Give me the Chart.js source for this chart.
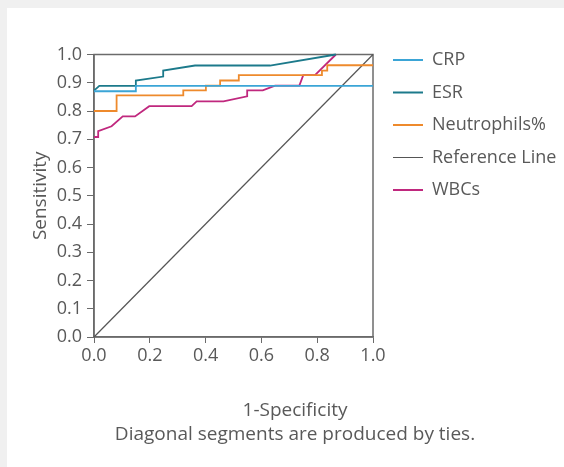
<!DOCTYPE html>
<html>
<head>
<meta charset="utf-8">
<script src="https://cdn.jsdelivr.net/npm/chart.js@4/dist/chart.umd.min.js"></script>
<style>
  html, body { margin: 0; padding: 0; background: #f0f0f0; }
  #panel { position: absolute; left: 7px; top: 8px; right: 0; bottom: 0; background: #ffffff; }
  #c { position: absolute; left: 0; top: 0; }
</style>
</head>
<body>
<div id="panel"></div>
<canvas id="c" width="564" height="467"></canvas>
<script>
// ---- data ----
const seriesNames = ['CRP', 'ESR', 'Neutrophils%', 'Reference Line', 'WBCs'];
const seriesColors = ['#3ba5d6', '#1c7a8b', '#ee8a2c', '#555555', '#c0287e'];

const crpX = [0, 0.15, 0.15, 1.0];
const crpY = [0.870, 0.870, 0.889, 0.889];

const esrX = [0, 0.019, 0.15, 0.15, 0.248, 0.248, 0.362, 0.631, 0.867];
const esrY = [0.872, 0.889, 0.889, 0.908, 0.922, 0.943, 0.961, 0.961, 1.0];

const neutX = [0, 0.081, 0.081, 0.32, 0.32, 0.401, 0.401, 0.452, 0.452, 0.519, 0.519, 0.817, 0.817, 0.836, 0.836, 1.0];
const neutY = [0.800, 0.800, 0.855, 0.855, 0.873, 0.873, 0.890, 0.890, 0.908, 0.908, 0.927, 0.927, 0.943, 0.943, 0.962, 0.962];

const refX = [0, 1];
const refY = [0, 1];

const wbcX = [0, 0.015, 0.015, 0.063, 0.103, 0.147, 0.198, 0.35, 0.368, 0.464, 0.549, 0.549, 0.605, 0.649, 0.736, 0.750, 0.792, 0.867];
const wbcY = [0.708, 0.708, 0.729, 0.746, 0.781, 0.781, 0.817, 0.817, 0.834, 0.834, 0.852, 0.873, 0.873, 0.890, 0.890, 0.927, 0.927, 1.0];

const xTicks = [0, 0.2, 0.4, 0.6, 0.8, 1.0];
const yTicks = [0, 0.1, 0.2, 0.3, 0.4, 0.5, 0.6, 0.7, 0.8, 0.9, 1.0];

const xTitle = '1-Specificity';
const footNote = 'Diagonal segments are produced by ties.';
const yTitle = 'Sensitivity';

// ---- build ----
const xs = [crpX, esrX, neutX, refX, wbcX];
const ys = [crpY, esrY, neutY, refY, wbcY];
const toPts = (a, b) => a.map((v, i) => ({ x: v, y: b[i] }));

const datasets = seriesNames.map((name, i) => ({
  label: name,
  data: toPts(xs[i], ys[i]),
  showLine: true,
  borderColor: seriesColors[i],
  backgroundColor: seriesColors[i],
  borderWidth: name === 'Reference Line' ? 1.2 : 1.8,
  pointRadius: 0,
  pointHoverRadius: 0,
  tension: 0,
  clip: 4
}));

const textColor = '#595959';
const axisColor = '#6b6b6b';
const fontFamily = "'Open Sans', 'Noto Sans', sans-serif";

const framePlugin = {
  id: 'frame',
  beforeDatasetsDraw(chart) {
    const a = chart.chartArea, ctx = chart.ctx;
    ctx.save();
    ctx.strokeStyle = axisColor;
    ctx.lineWidth = 1.5;
    ctx.strokeRect(a.left, a.top, a.right - a.left, a.bottom - a.top);
    ctx.restore();
  }
};

const hiddenSpacer = (pos, size) => ({
  type: 'linear',
  position: pos,
  display: true,
  min: 0, max: 1,
  ticks: { display: false },
  grid: { display: false },
  border: { display: false },
  afterFit: s => { if (pos === 'top') s.height = size; else s.width = size; }
});

new Chart(document.getElementById('c'), {
  type: 'scatter',
  data: { datasets },
  plugins: [framePlugin],
  options: {
    responsive: false,
    animation: false,
    layout: { padding: { left: 31.5, top: 36.5, right: 5.5, bottom: 20.5 } },
    plugins: {
      tooltip: { enabled: false },
      legend: {
        position: 'right',
        align: 'start',
        maxWidth: 180,
        labels: {
          usePointStyle: true,
          pointStyle: 'line',
          pointStyleWidth: 30,
          boxHeight: 18,
          color: textColor,
          font: { family: fontFamily, size: 18 },
          padding: 14.5
        }
      },
      title: {
        display: true,
        position: 'bottom',
        text: [xTitle, footNote],
        color: textColor,
        font: { family: fontFamily, size: 19, weight: 'normal', lineHeight: 1.263 },
        padding: { top: 21.5, bottom: 0 }
      }
    },
    scales: {
      x: {
        type: 'linear',
        position: 'bottom',
        min: 0, max: 1,
        afterBuildTicks: s => { s.ticks = xTicks.map(v => ({ value: v })); },
        afterFit: s => { s.height = 40; },
        ticks: { color: textColor, font: { family: fontFamily, size: 18 }, padding: 2, callback: v => v.toFixed(1), maxRotation: 0 },
        grid: { drawOnChartArea: false, drawTicks: true, tickLength: 6, color: axisColor, lineWidth: 1 },
        border: { display: true, color: axisColor, width: 1.5 }
      },
      y: {
        type: 'linear',
        position: 'left',
        min: 0, max: 1,
        afterBuildTicks: s => { s.ticks = yTicks.map(v => ({ value: v })); },
        afterFit: s => { s.width = 62.5; },
        ticks: { color: textColor, font: { family: fontFamily, size: 18 }, padding: 5, callback: v => v.toFixed(1) },
        grid: { drawOnChartArea: false, drawTicks: true, tickLength: 7, color: axisColor, lineWidth: 1 },
        border: { display: true, color: axisColor, width: 1.5 },
        title: { display: true, text: yTitle, color: textColor, font: { family: fontFamily, size: 19 }, padding: -2 }
      },
      xTopSpacer: hiddenSpacer('top', 18),
      yRightSpacer: hiddenSpacer('right', 5.5)
    }
  }
});
</script>
</body>
</html>
